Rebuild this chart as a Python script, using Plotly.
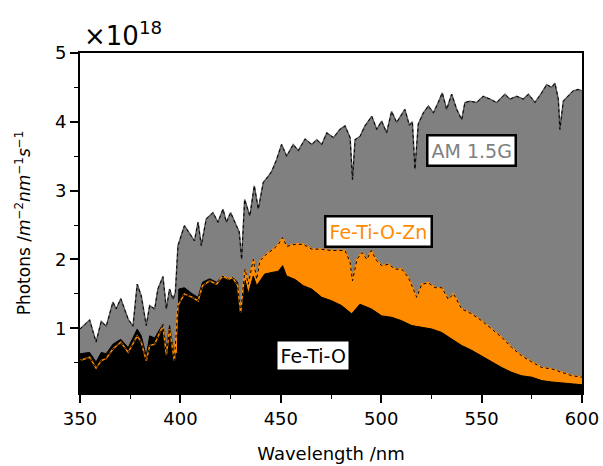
import plotly.graph_objects as go

# AM 1.5G photon flux (x1e18 photons m^-2 nm^-1 s^-1)
wl_am = [350, 354.8, 358, 360.6, 363.1, 366.4, 368, 370.3, 374, 376.4, 378.5, 380.5, 383, 384.7,
         387.2, 388.8, 391.3, 393, 394.6, 396.3, 397.5, 398.8, 402, 405.4, 407, 408.8, 410.4, 412.9,
         416.2, 418.7, 421.2, 422.9, 425, 427.9, 429.3, 430.5, 432, 434.6, 436.8, 438.8, 441.3, 443.8,
         445.5, 447.9, 450.4, 452.9, 456.2, 458.7, 462.1, 465.4, 467.9, 470.4, 472.9, 476.2, 479.5,
         482, 484.5, 485.7, 487, 489.5, 491.9, 495.3, 497.8, 500.2, 502.7, 505.2, 507.7, 511.8, 514,
         515.5, 516.8, 518.5, 521, 523.5, 526, 528.4, 530.4, 532.6, 535.1, 537.6, 540.1, 541.7, 544.2,
         547.5, 550.8, 554.2, 557.5, 561.6, 564.1, 567.5, 570.8, 573.3, 576.6, 579.9, 582.4, 584.9,
         586.5, 588.2, 589, 590.7, 593.2, 595.6, 598.1, 600]
am15g = [0.99, 1.12, 0.80, 1.10, 1.03, 1.38, 1.28, 1.43, 1.13, 1.03, 1.64, 1.47, 1.04, 1.33,
         1.28, 1.57, 1.75, 1.28, 1.57, 1.42, 1.52, 2.20, 2.49, 2.34, 2.27, 2.54, 2.20, 2.59,
         2.68, 2.54, 2.73, 2.54, 2.68, 2.49, 2.40, 2.00, 2.87, 2.63, 3.07, 2.73, 3.12, 3.21,
         3.28, 3.45, 3.67, 3.50, 3.67, 3.58, 3.75, 3.67, 3.74, 3.67, 3.84, 3.77, 3.89,
         3.94, 3.77, 3.16, 3.74, 3.79, 3.94, 4.08, 3.89, 4.01, 3.84, 4.15, 3.99, 4.18, 3.95,
         4.00, 3.31, 3.97, 4.13, 4.23, 4.13, 4.28, 4.42, 4.18, 4.40, 4.18, 4.03, 4.28, 4.30,
         4.28, 4.37, 4.33, 4.28, 4.40, 4.33, 4.37, 4.33, 4.40, 4.28, 4.42, 4.54, 4.50,
         4.56, 4.33, 3.89, 4.30, 4.37, 4.45, 4.47, 4.45]

# Fe-Ti-O-Zn
wl_zn = [350, 354.8, 358, 360.6, 363, 366.4, 370.3, 374, 378.5, 380.5, 383, 384.7, 387.2, 391.3,
         393, 394.6, 397, 398.8, 402, 406, 408.8, 411, 414.6, 418, 421, 424, 426, 428.5, 430,
         432.2, 433.8, 436.3, 438, 439.6, 443, 446.3, 448.8, 450.9, 452.9, 457.1, 461.2, 465.4,
         469.5, 475.3, 482, 484.5, 485.7, 487.9, 490.4, 492.9, 495, 497.8, 500.3, 503.6, 506.9,
         510.2, 513.5, 516, 517.7, 520.2, 523.5, 526.8, 530.2, 533.4, 536, 540.1, 545.1, 550,
         555, 560, 565, 570, 575, 580, 585, 590, 595, 600]
fe_ti_o_zn = [0.53, 0.58, 0.42, 0.53, 0.56, 0.70, 0.80, 0.65, 0.89, 0.80, 0.53, 0.75, 0.77, 1.04,
              0.61, 0.99, 0.53, 1.33, 1.50, 1.45, 1.40, 1.62, 1.69, 1.64, 1.76, 1.71, 1.74, 1.62, 1.23,
              1.86, 1.64, 2.00, 1.71, 1.98, 2.08, 2.15, 2.22, 2.32, 2.19, 2.22, 2.22, 2.15,
              2.15, 2.13, 2.13, 1.96, 1.69, 2.00, 2.10, 2.00, 2.13, 1.98, 1.91, 1.93, 1.86,
              1.86, 1.74, 1.57, 1.45, 1.64, 1.66, 1.59, 1.59, 1.42, 1.50, 1.28, 1.21, 1.11,
              0.99, 0.87, 0.72, 0.60, 0.51, 0.43, 0.41, 0.36, 0.31, 0.29]

# Fe-Ti-O
wl_feo = [350, 354.8, 358, 360.6, 363, 366.4, 370.3, 374, 378.5, 380.5, 383, 384.7, 387.2, 391.3,
          393, 394.6, 397, 398.5, 399.2, 402, 406, 408.8, 411, 414.6, 418, 421, 424, 426, 428.5,
          430, 432.2, 433.8, 436.3, 438, 442, 445, 448.8, 450.9, 452.9, 457.1, 461.2, 465.4, 470.4,
          475.3, 480.3, 485.3, 489.4, 495.2, 500.3, 505.2, 510.2, 515.2, 520.2, 525.2, 530.1,
          535.1, 540.1, 545.1, 550, 555, 560, 565, 570, 575, 580, 585, 590, 595, 600]
fe_ti_o = [0.63, 0.65, 0.51, 0.65, 0.63, 0.77, 0.84, 0.72, 0.99, 0.89, 0.60, 0.89, 0.86, 1.06,
           0.70, 1.04, 0.60, 0.65, 1.57, 1.59, 1.50, 1.45, 1.67, 1.72, 1.67, 1.76, 1.71, 1.74, 1.67,
           1.23, 1.70, 1.50, 1.76, 1.62, 1.79, 1.81, 1.83, 1.91, 1.76, 1.71, 1.62, 1.57, 1.45,
           1.40, 1.33, 1.21, 1.35, 1.28, 1.18, 1.16, 1.11, 1.04, 1.01, 0.99, 0.94,
           0.84, 0.75, 0.68, 0.60, 0.51, 0.43, 0.36, 0.31, 0.29, 0.24, 0.22, 0.21, 0.20, 0.18]

x_ticks = [350, 400, 450, 500, 550, 600]
y_ticks = [1, 2, 3, 4, 5]

GRAY = "#808080"
ORANGE = "#FF8C00"
FONT = "DejaVu Sans"

fig = go.Figure()
fig.add_trace(go.Scatter(x=wl_am, y=am15g, fill="tozeroy", fillcolor=GRAY, mode="lines",
                         line=dict(color="#5a5a5a", width=1.5), hoverinfo="skip"))
fig.add_trace(go.Scatter(x=wl_zn, y=fe_ti_o_zn, fill="tozeroy", fillcolor=ORANGE, mode="lines",
                         line=dict(color=ORANGE, width=1.5), hoverinfo="skip"))
fig.add_trace(go.Scatter(x=wl_feo, y=fe_ti_o, fill="tozeroy", fillcolor="black", mode="lines",
                         line=dict(color="black", width=1), hoverinfo="skip"))
fig.add_trace(go.Scatter(x=wl_zn, y=fe_ti_o_zn, mode="lines",
                         line=dict(color=ORANGE, width=1.5), hoverinfo="skip"))
fig.add_trace(go.Scatter(x=wl_am, y=am15g, mode="lines",
                         line=dict(color="black", width=1, dash="dot"), hoverinfo="skip"))
fig.add_trace(go.Scatter(x=wl_zn, y=fe_ti_o_zn, mode="lines",
                         line=dict(color="black", width=1, dash="dot"), hoverinfo="skip"))

fig.update_layout(
    width=603, height=466,
    margin=dict(l=80, r=21, t=53, b=73, autoexpand=False),
    paper_bgcolor="white", plot_bgcolor="white",
    showlegend=False,
    font=dict(family=FONT, size=18, color="black"),
    xaxis=dict(range=[350, 600], tickvals=x_ticks, ticktext=[str(v) for v in x_ticks],
               automargin=False, ticklabeloverflow="allow",
               showgrid=False, zeroline=False, showline=True, linecolor="black", linewidth=2,
               mirror=True, ticks="outside", ticklen=8, tickwidth=1.5, tickcolor="black",
               minor=dict(dtick=25, tick0=350, ticks="outside", ticklen=4, tickwidth=1.2,
                          tickcolor="black", showgrid=False),
               title=dict(text="Wavelength /nm", font=dict(size=18), standoff=20)),
    yaxis=dict(range=[0.06, 5], tickvals=y_ticks, ticktext=[str(v) for v in y_ticks],
               automargin=False, ticklabeloverflow="allow",
               showgrid=False, zeroline=False, showline=True, linecolor="black", linewidth=2,
               mirror=True, ticks="outside", ticklen=8, tickwidth=1.5, tickcolor="black",
               minor=dict(dtick=0.5, tick0=0, ticks="outside", ticklen=4, tickwidth=1.2,
                          tickcolor="black", showgrid=False),
               title=dict(text="Photons /<i>m</i><sup>−2</sup><i>nm</i><sup>−1</sup><i>s</i><sup>−1</sup>",
                          font=dict(size=17), standoff=20)),
)

fig.add_annotation(x=0, y=1, xref="paper", yref="paper", xanchor="left", yanchor="bottom",
                   text="×10<sup>18</sup>", showarrow=False, font=dict(size=26), yshift=0, xshift=2)
fig.add_annotation(x=545.2, y=3.58, text="AM 1.5G", showarrow=False,
                   font=dict(size=19, color=GRAY), bgcolor="white", bordercolor="black",
                   borderwidth=2.5, borderpad=3)
fig.add_annotation(x=498.9, y=2.41, text="Fe-Ti-O-Zn", showarrow=False,
                   font=dict(size=19, color=ORANGE), bgcolor="white", bordercolor="black",
                   borderwidth=2.5, borderpad=3)
fig.add_annotation(x=465.8, y=0.60, text="Fe-Ti-O", showarrow=False,
                   font=dict(size=19, color="black"), bgcolor="white", bordercolor="black",
                   borderwidth=2.5, borderpad=3)

fig.write_html("out.html")
